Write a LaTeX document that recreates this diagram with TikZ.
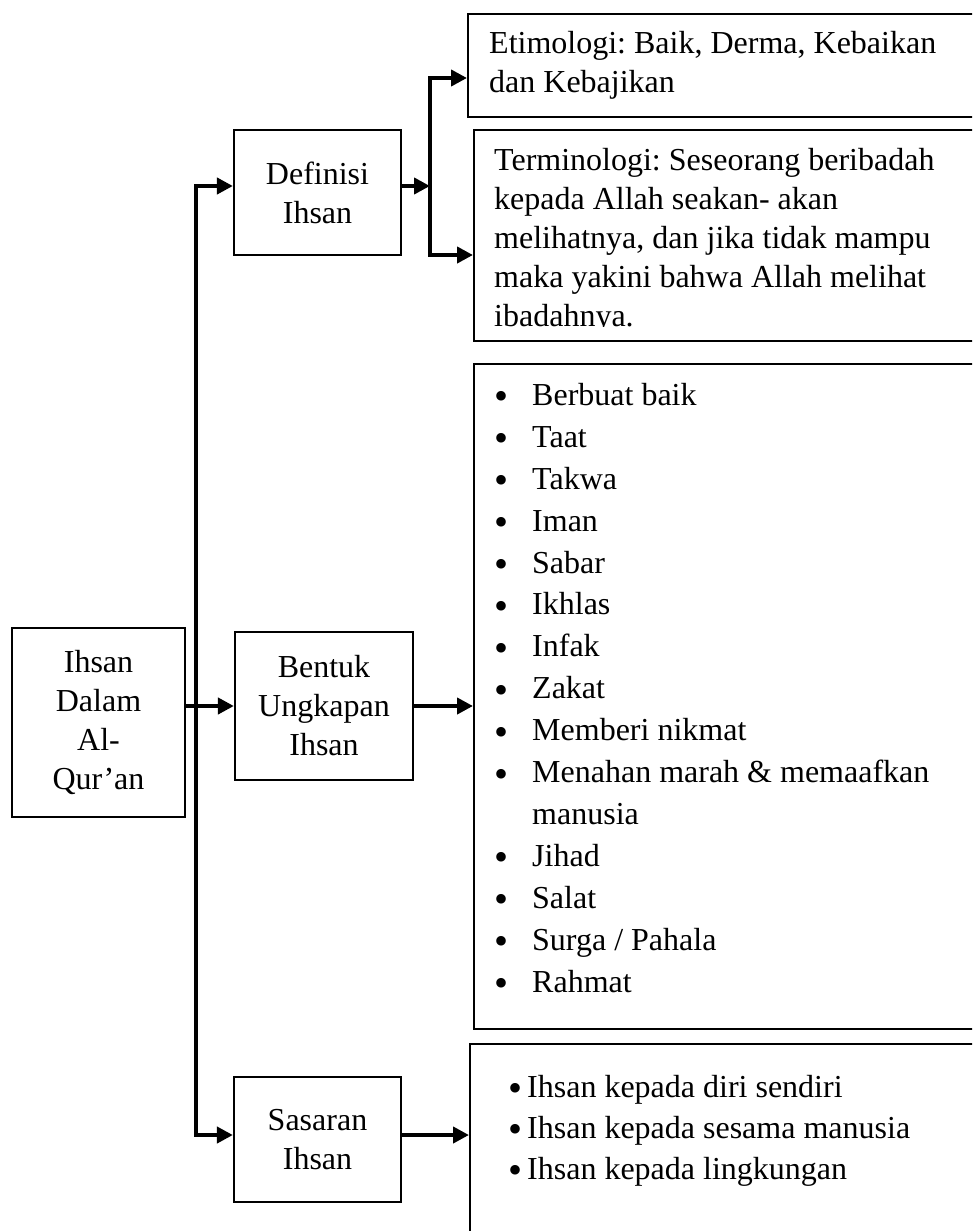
\documentclass[tikz,border=0pt]{standalone}
\usepackage{fontspec}
\usepackage{graphicx}
\setmainfont{Liberation Serif}
\usetikzlibrary{arrows.meta,positioning,calc}
\frenchspacing
\newcommand{\bigdot}{\raisebox{-4.5pt}{\scalebox{1.25}{\textbullet}}}
\newcommand{\itembul}{\makebox[38pt][l]{\bigdot}}
\newcommand{\targetbul}{\makebox[19pt][l]{\bigdot}}
\tikzset{
  arr/.style={line width=4pt,-{Triangle[length=16pt,width=16pt]}},
  rectnodes/.style args={#1,#2}{
  draw=black,
  line width=2.2pt,
  minimum width=#1pt,
  minimum height=#2pt,
  inner sep=0pt,
  align=center,
  },
  openbox/.style={
  draw=black,
  line width=2.2pt,
  anchor=north west,
  minimum width=540pt,
  minimum height=#1pt,
  inner sep=0pt,
  },
  txt/.style={anchor=north west,inner sep=0pt,align=left}
}
\begin{document}
\begin{tikzpicture}[x=1pt,y=-1pt,every node/.style={font=\fontsize{32}{39}\selectfont}]
  \useasboundingbox (0,0) rectangle (972,1231);
  \clip (0,0) rectangle (972,1231);

  \node [rectnodes={173,189}] (quran) at (98.5,722.5) {Ihsan\\Dalam\\Al-\\Qur’an};
  \node [rectnodes={167,125}] (definisi) at (317.5,192.5) {Definisi\\Ihsan};
  \node [rectnodes={178,148}] (bentuk) at (324,706) {Bentuk\\Ungkapan\\Ihsan};
  \node [rectnodes={167,125}] (sasaran) at (317.5,1139.5) {Sasaran\\Ihsan};

  \node [openbox=103] (etimologi) at (467,13) {};
  \node [openbox=211] (terminologi) at (473,129) {};
  \node [openbox=665] (wujud) at (473,363) {};
  \node [openbox=217] (target) at (469,1043) {};

  \node [txt] (etimtext) at (489,31) {Etimologi: Baik, Derma, Kebaikan\\dan Kebajikan};
  \begin{scope}
    \clip (473,129) rectangle (972,326);
    \node [txt] (termtext) at (494,148) {Terminologi: Seseorang beribadah\\kepada Allah seakan- akan\\melihatnya, dan jika tidak mampu\\maka yakini bahwa Allah melihat\\ibadahnya.};
  \end{scope}
  \node [txt,font=\fontsize{32}{41.9}\selectfont] (wujudlist) at (494,383) {%
    \itembul Berbuat baik\\
    \itembul Taat\\
    \itembul Takwa\\
    \itembul Iman\\
    \itembul Sabar\\
    \itembul Ikhlas\\
    \itembul Infak\\
    \itembul Zakat\\
    \itembul Memberi nikmat\\
    \itembul Menahan marah \& memaafkan\\
    \hspace*{38pt}manusia\\
    \itembul Jihad\\
    \itembul Salat\\
    \itembul Surga / Pahala\\
    \itembul Rahmat};
  \node [txt,font=\fontsize{32}{41}\selectfont] (targetlist) at (508,1075) {%
    \targetbul Ihsan kepada diri sendiri\\
    \targetbul Ihsan kepada sesama manusia\\
    \targetbul Ihsan kepada lingkungan};

  \coordinate (trunktop) at (196,186);
  \coordinate (trunkbot) at (196,1135);
  \coordinate (forkup) at (430,78);
  \coordinate (forkdown) at (430,255);

  \draw [arr] (trunkbot) -- (trunktop) -- (trunktop -| definisi.west);
  \draw [arr] (trunktop) -- (trunkbot) -- (trunkbot -| sasaran.west);
  \draw [arr] (quran.east |- bentuk.west) -- (bentuk.west);
  \draw [arr] (trunktop -| definisi.east) -- (trunktop -| forkup);
  \draw [arr] (forkdown) -- (forkup) -- (forkup -| etimologi.west);
  \draw [arr] (forkup) -- (forkdown) -- (forkdown -| terminologi.west);
  \draw [arr] (bentuk.east) -- (bentuk.east -| wujud.west);
  \draw [arr] (trunkbot -| sasaran.east) -- (trunkbot -| target.west);
\end{tikzpicture}
\end{document}
